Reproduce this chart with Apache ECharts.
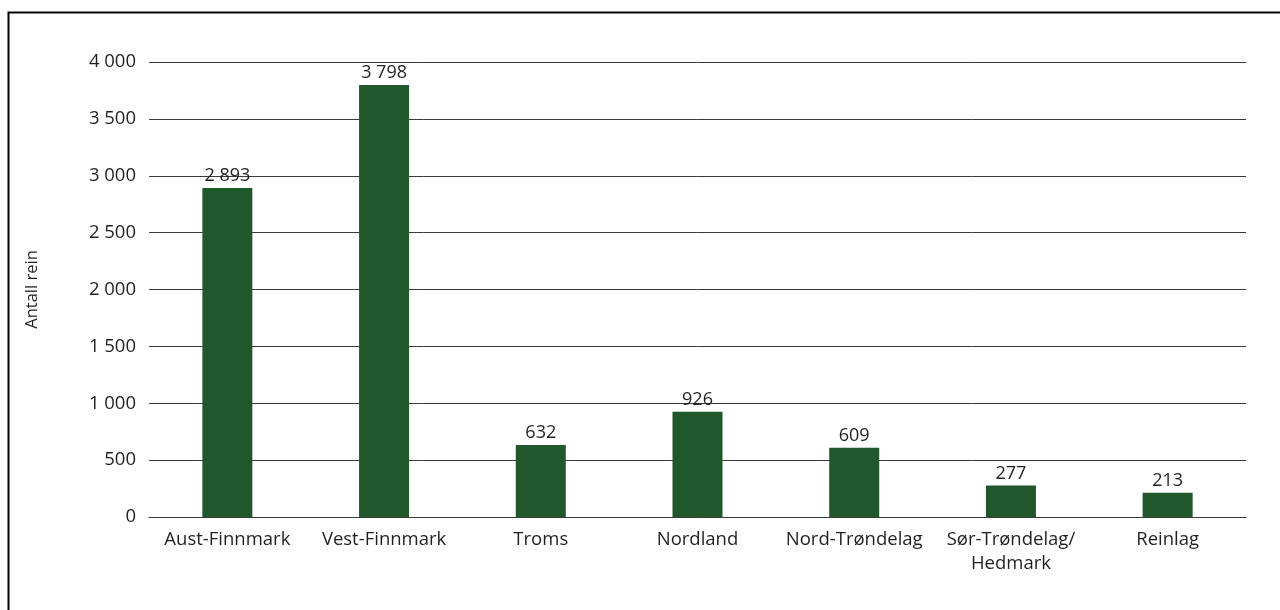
<!DOCTYPE html>
<html>
<head>
<meta charset="utf-8">
<script src="https://cdn.jsdelivr.net/npm/echarts@6/dist/echarts.min.js"></script>
<style>html,body{margin:0;padding:0;background:#fff}#c{width:1280px;height:610px}</style>
</head>
<body>
<div id="c"></div>
<script>
const categories = ['Aust-Finnmark', 'Vest-Finnmark', 'Troms', 'Nordland', 'Nord-Trøndelag', 'Sør-Trøndelag/\nHedmark', 'Reinlag'];
const values = [2893, 3798, 632, 926, 609, 277, 213];
const yAxisName = 'Antall rein';

const fmt = v => String(v).replace(/\B(?=(\d{3})+(?!\d))/g, ' ');
const font = '"Open Sans", "Noto Sans", sans-serif';
const txt = '#231f20';
const fs = 18.5;

const chart = echarts.init(document.getElementById('c'), null, {renderer: 'canvas'});
chart.setOption({
  animation: false,
  backgroundColor: '#fff',
  graphic: [{
    type: 'rect', left: 6, top: 10, silent: true,
    shape: {x: 0, y: 0, width: 1400, height: 800},
    style: {fill: 'none', stroke: '#000', lineWidth: 2}
  }],
  grid: {left: 149, right: 34, top: 62, bottom: 93, containLabel: false},
  xAxis: {
    type: 'category', data: categories,
    axisLine: {show: true, lineStyle: {color: '#3a3a3a', width: 1}},
    axisTick: {show: false},
    axisLabel: {color: txt, fontFamily: font, fontSize: fs, margin: 11, lineHeight: 24, interval: 0}
  },
  yAxis: {
    type: 'value', min: 0, max: 4000, interval: 500,
    name: yAxisName, nameLocation: 'middle', nameGap: 108, nameRotate: 90,
    nameTextStyle: {color: txt, fontFamily: font, fontSize: 16.5},
    axisLine: {show: false}, axisTick: {show: false},
    axisLabel: {color: txt, fontFamily: font, fontSize: fs, margin: 13, formatter: fmt},
    splitLine: {lineStyle: {color: '#3a3a3a', width: 1}}
  },
  series: [{
    type: 'bar', data: values, barWidth: 50,
    itemStyle: {color: '#20572b'},
    label: {show: true, position: 'top', distance: 3, color: txt, fontFamily: font, fontSize: 18,
      formatter: p => fmt(p.value)}
  }]
});
</script>
</body>
</html>
